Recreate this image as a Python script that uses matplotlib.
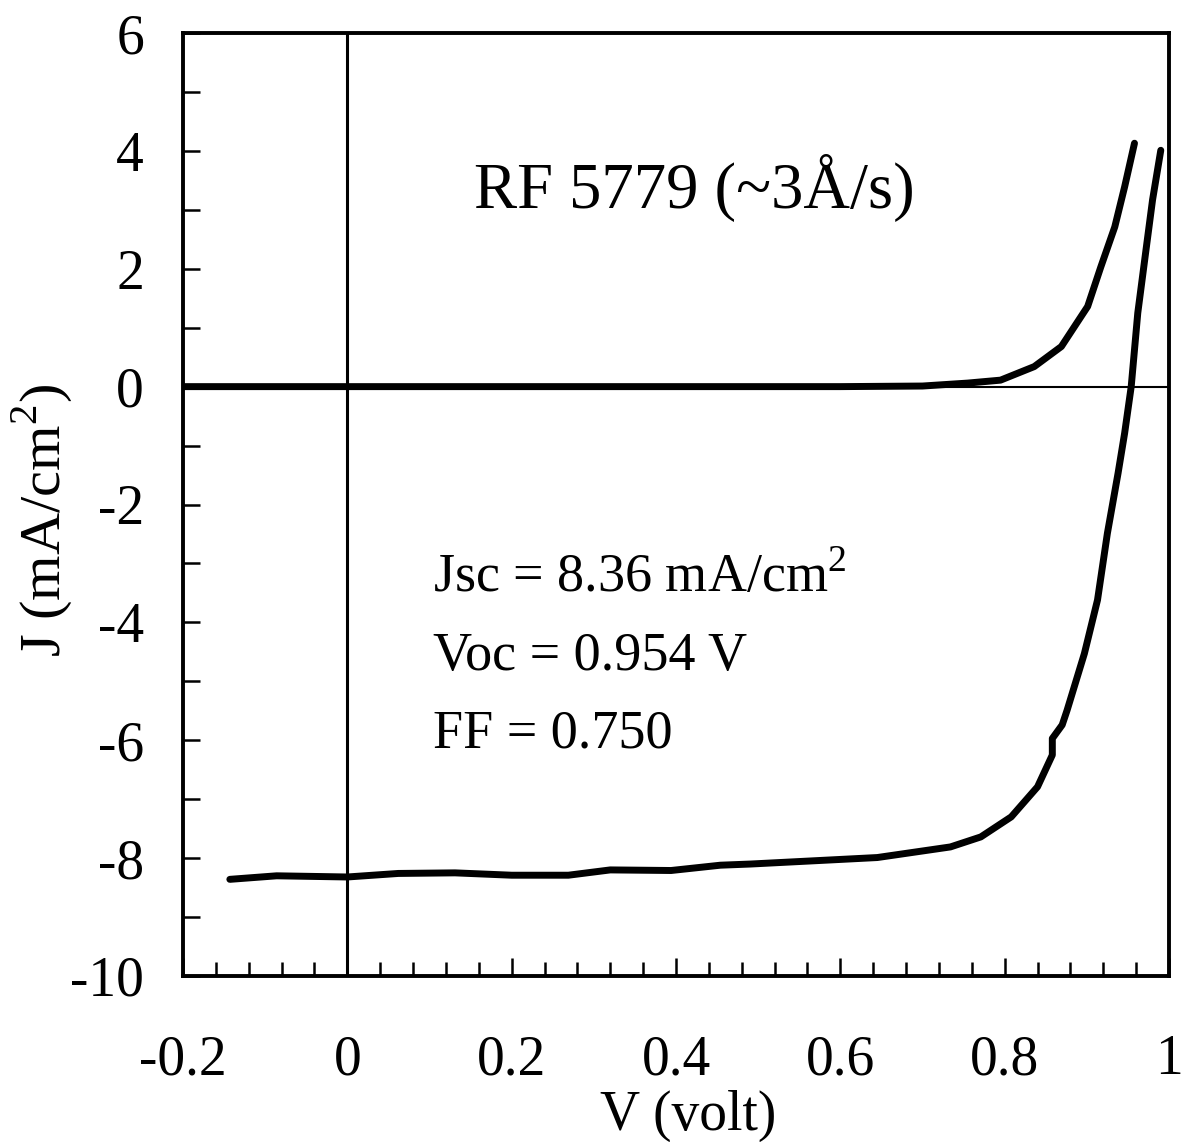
import matplotlib
matplotlib.use('Agg')
import matplotlib.pyplot as plt
from matplotlib.ticker import MultipleLocator

plt.rcParams['font.family'] = ['Liberation Serif', 'DejaVu Serif']
plt.rcParams['mathtext.fontset'] = 'custom'
plt.rcParams['mathtext.rm'] = 'Liberation Serif'
plt.rcParams['axes.unicode_minus'] = False

# illuminated J-V curve
v_light = [-0.143, -0.086, 0.0, 0.062, 0.131, 0.2, 0.269, 0.32, 0.394, 0.454,
           0.491, 0.645, 0.734, 0.771, 0.808, 0.840, 0.858, 0.858, 0.870, 0.876,
           0.897, 0.913, 0.925, 0.938, 0.946, 0.954, 0.962, 0.972, 0.980, 0.990]
j_light = [-8.36, -8.30, -8.32, -8.26, -8.25, -8.29, -8.29, -8.20, -8.21, -8.12,
           -8.10, -7.99, -7.81, -7.64, -7.30, -6.79, -6.25, -5.97, -5.74, -5.49,
           -4.53, -3.62, -2.49, -1.47, -0.79, 0.0, 1.25, 2.32, 3.17, 4.01]

# dark J-V curve
v_dark = [-0.2, 0.0, 0.2, 0.43, 0.6, 0.70, 0.755, 0.795, 0.836, 0.869, 0.901,
          0.917, 0.934, 0.946, 0.958]
j_dark = [0.0, 0.0, 0.0, 0.0, 0.0, 0.01, 0.06, 0.11, 0.34, 0.68, 1.36,
          2.03, 2.71, 3.39, 4.13]

x_ticks = [-0.2, 0, 0.2, 0.4, 0.6, 0.8, 1]
x_labels = ['-0.2', '0', '0.2', '0.4', '0.6', '0.8', '1']
y_ticks = [-10, -8, -6, -4, -2, 0, 2, 4, 6]

W, H = 1183, 1142
fig = plt.figure(figsize=(W / 100, H / 100), dpi=100)
ax = fig.add_axes([183 / W, 1 - 976 / H, 986 / W, 943 / H])

ax.axhline(0, color='black', lw=1.5, zorder=1)
ax.axvline(0, color='black', lw=2.2, zorder=1)
ax.plot(v_light, j_light, color='black', lw=5, solid_capstyle='round',
        solid_joinstyle='round', zorder=3)
ax.plot(v_dark, j_dark, color='black', lw=5, solid_capstyle='round',
        solid_joinstyle='round', zorder=3)

ax.set_xlim(-0.2, 1.0)
ax.set_ylim(-10, 6)
ax.set_xticks(x_ticks)
ax.set_xticklabels(x_labels)
ax.set_yticks(y_ticks)
ax.xaxis.set_minor_locator(MultipleLocator(0.04))
ax.yaxis.set_minor_locator(MultipleLocator(1))

ax.tick_params(axis='both', which='both', direction='in', top=False, right=False,
               width=1.8, labelsize=40)
ax.tick_params(axis='x', which='major', length=13, pad=42)
ax.tick_params(axis='x', which='minor', length=10)
ax.tick_params(axis='y', which='both', length=12, pad=28)

for s in ax.spines.values():
    s.set_linewidth(2.8)

# axis labels placed in figure pixels
fig.text(600 / W, 1 - 1130 / H, 'V (volt)', fontsize=40, ha='left', va='baseline')
fig.text(42 / W, 1 - 520 / H, 'J (mA/cm$^2$)', fontsize=42, rotation=90,
         ha='center', va='center')

fig.text(694 / W, 1 - 208 / H, 'RF 5779 (~3Å/s)', fontsize=46.5,
         ha='center', va='baseline')
fig.text(433 / W, 1 - 592 / H, 'Jsc = 8.36 mA/cm$^2$', fontsize=39, va='baseline')
fig.text(433 / W, 1 - 670 / H, 'Voc = 0.954 V', fontsize=39, va='baseline')
fig.text(433 / W, 1 - 747 / H, 'FF = 0.750', fontsize=39, va='baseline')

fig.savefig('out.png', dpi=100)
